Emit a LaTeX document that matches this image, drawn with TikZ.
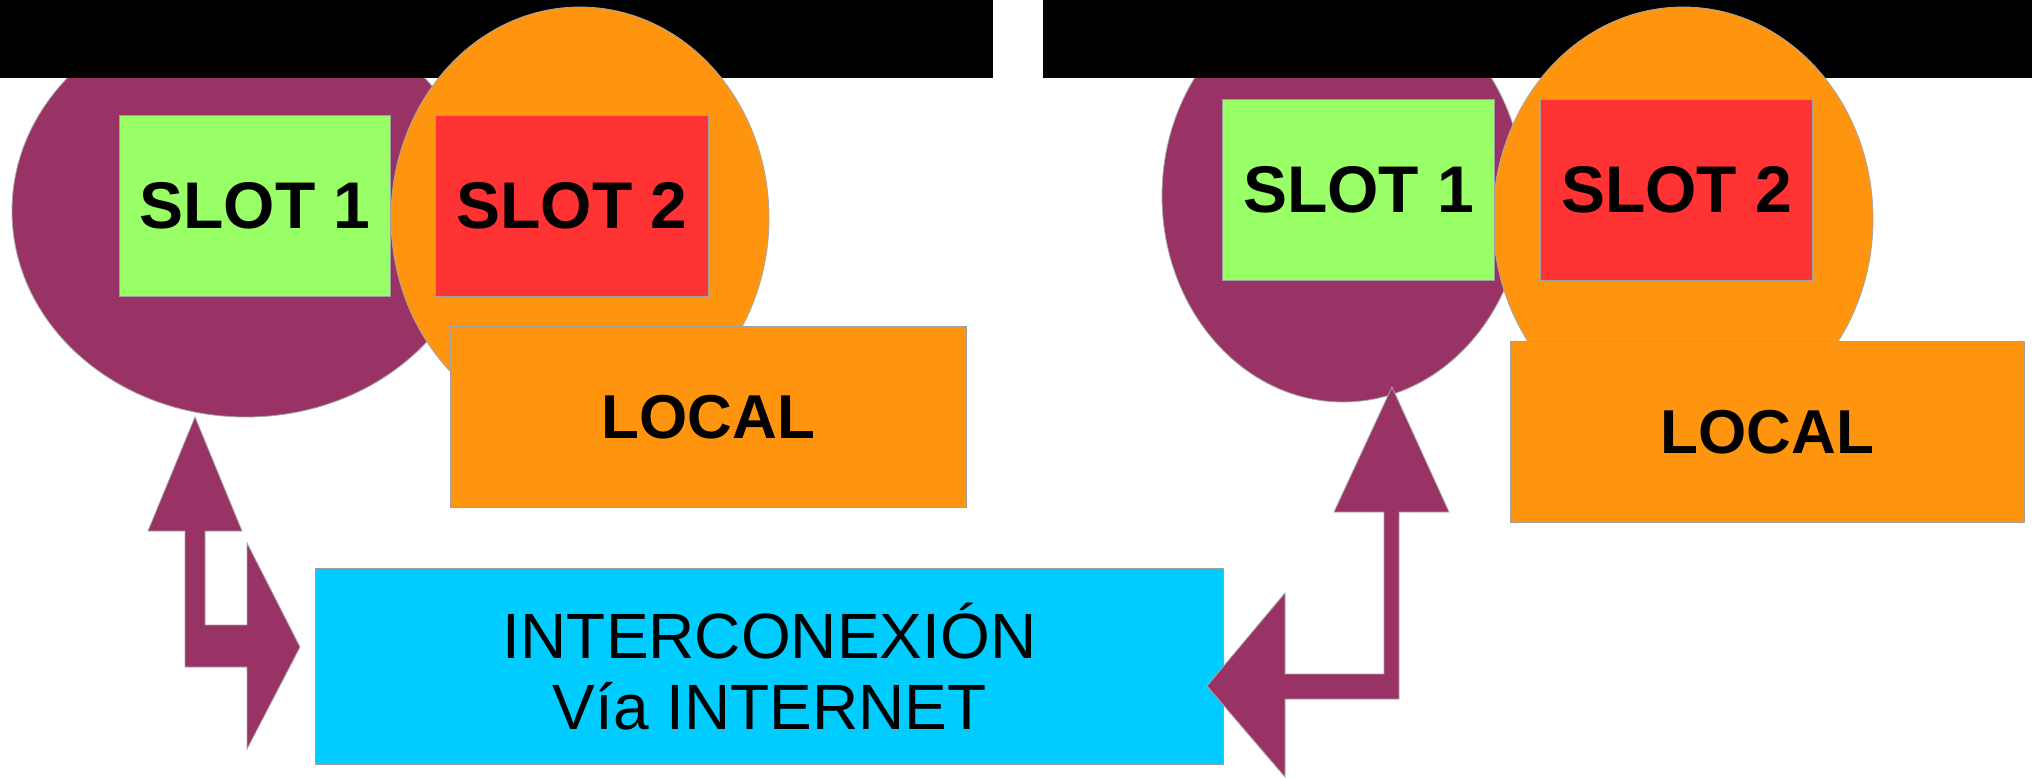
\documentclass[tikz,border=0pt]{standalone}
\usepackage{fontspec}
\setmainfont{Liberation Sans}
\usetikzlibrary{shapes.geometric}
\definecolor{plum}{HTML}{993366}
\definecolor{orng}{HTML}{FF950E}
\definecolor{lgreen}{HTML}{99FF66}
\definecolor{lred}{HTML}{FF3333}
\definecolor{skyc}{HTML}{00CCFF}
\begin{document}
\begin{tikzpicture}[x=1pt,y=-1pt,
  blob/.style={ellipse, inner sep=0pt, draw=gray!70, line width=0.8pt},
  bar/.style={rectangle, fill=black, draw=none, inner sep=0pt, anchor=north west},
  box/.style={rectangle, draw=gray!75, line width=1.2pt, inner sep=0pt, anchor=north west},
  slottxt/.style={font=\fontsize{66}{70}\selectfont\bfseries},
  localtxt/.style={font=\fontsize{62}{70}\selectfont\bfseries},
  netarrow/.style={fill=plum, draw=gray!70, line width=0.8pt, line join=miter}]
\useasboundingbox (0,0) rectangle (2032,778);
% purple ellipses (behind bars)
\node[blob, fill=plum, minimum width=468pt, minimum height=412pt] (pL) at (246,211) {};
\node[blob, fill=plum, minimum width=362pt, minimum height=412pt] (pR) at (1343,196) {};
% black bars
\node[bar, minimum width=993pt, minimum height=78pt] (barL) at (0,0) {};
\node[bar, minimum width=989pt, minimum height=78pt] (barR) at (1043,0) {};
% orange ellipses
\node[blob, fill=orng, minimum width=378pt, minimum height=422pt] (oL) at (580,218) {};
\node[blob, fill=orng, minimum width=380pt, minimum height=424pt] (oR) at (1683,219) {};
% slots and local boxes
\node[box, fill=lgreen, minimum width=271pt, minimum height=181pt, slottxt] (s1L) at (119,115) {SLOT 1};
\node[box, fill=lred, minimum width=273pt, minimum height=181pt, slottxt] (s2L) at (435,115) {SLOT 2};
\node[box, fill=orng, minimum width=516pt, minimum height=181pt, localtxt] (locL) at (450,326) {LOCAL};
\node[box, fill=lgreen, minimum width=272pt, minimum height=181pt, slottxt] (s1R) at (1222,99) {SLOT 1};
\node[box, fill=lred, minimum width=272pt, minimum height=181pt, slottxt] (s2R) at (1540,99) {SLOT 2};
\node[box, fill=orng, minimum width=514pt, minimum height=181pt, localtxt] (locR) at (1510,341) {LOCAL};
% internet box
\node[box, fill=skyc, minimum width=908pt, minimum height=196pt] (net) at (315,568) {};
\node[align=center, font=\fontsize{64}{71}\selectfont, inner sep=0pt] (netT) at (net.center) {INTERCONEXIÓN\\Vía INTERNET};
% bent double arrows
\draw[netarrow] (195,417) -- (242,531) -- (205,531) -- (205,625) -- (247,625) -- (247,543)
  -- (300,647) -- (247,749) -- (247,667) -- (185,667) -- (185,531) -- (148,531) -- cycle;
\draw[netarrow] (1392,387) -- (1449,512) -- (1399,512) -- (1399,699) -- (1285,699) -- (1285,777)
  -- (1207,686) -- (1285,593) -- (1285,674) -- (1384,674) -- (1384,512) -- (1334,512) -- cycle;
\end{tikzpicture}
\end{document}
